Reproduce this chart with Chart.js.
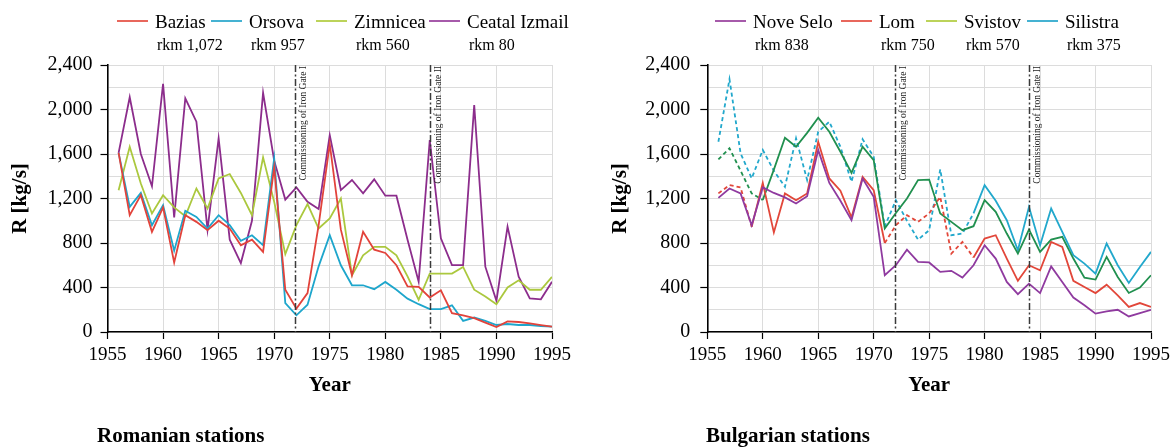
<!DOCTYPE html>
<html>
<head>
<meta charset="utf-8">
<script src="https://cdn.jsdelivr.net/npm/chart.js@4.4.0/dist/chart.umd.min.js"></script>
<style>
  html, body { margin: 0; padding: 0; background: #fff; }
  body { width: 1176px; height: 448px; position: relative; overflow: hidden;
         font-family: 'Liberation Serif', 'Times New Roman', serif; color: #000; }
  .panel { position: absolute; top: 0; height: 448px; }
  #left { left: 0; width: 590px; }
  #right { left: 590px; width: 586px; }
  .panel canvas { position: absolute; left: 0; top: 0; }
  .item { position: absolute; top: 9px; }
  .swatch { position: absolute; left: 0; top: 11px; width: 31px; height: 2px; }
  .name { position: absolute; left: 38px; top: 0; font-size: 19px; line-height: 25px; white-space: nowrap; }
  .rkm { position: absolute; left: 40px; top: 27px; font-size: 16px; line-height: 18px; white-space: nowrap; }
  .caption { position: absolute; top: 423px; font-size: 21px; font-weight: bold; }
</style>
</head>
<body>
<div class="panel" id="left">
  <canvas id="romania" width="590" height="448"></canvas>
  <div id="legendRo"></div>
  <div class="caption" style="left:97px">Romanian stations</div>
</div>
<div class="panel" id="right">
  <canvas id="bulgaria" width="586" height="448"></canvas>
  <div id="legendBg"></div>
  <div class="caption" style="left:116px">Bulgarian stations</div>
</div>
<script>
"use strict";

var FONT = "'Liberation Serif', 'Times New Roman', serif";

var years = [1956, 1957, 1958, 1959, 1960, 1961, 1962, 1963, 1964, 1965,
             1966, 1967, 1968, 1969, 1970, 1971, 1972, 1973, 1974, 1975,
             1976, 1977, 1978, 1979, 1980, 1981, 1982, 1983, 1984, 1985,
             1986, 1987, 1988, 1989, 1990, 1991, 1992, 1993, 1994, 1995];

// Romanian stations, R [kg/s]
var bazias  = [1610, 1050, 1230, 900, 1120, 625, 1050, 990, 915, 1000,
               930, 780, 830, 720, 1480, 380, 210, 350, 960, 1690,
               920, 510, 900, 740, 710, 600, 410, 405, 310, 375,
               170, 150, 125, 85, 45, 95, 90, 78, 62, 48];
var orsova  = [1610, 1125, 1250, 960, 1140, 730, 1090, 1035, 930, 1050,
               960, 820, 870, 780, 1560, 260, 150, 245, 590, 870,
               600, 420, 420, 385, 450, 380, 300, 250, 205, 205,
               240, 100, 130, 100, 63, 72, 63, 63, 54, 48];
var zimnicea = [1275, 1665, 1335, 1065, 1230, 1120, 1040, 1290, 1110, 1380,
                1420, 1250, 1050, 1570, 1170, 700, 960, 1150, 930, 1020,
                1200, 510, 690, 765, 765, 690, 500, 290, 525, 525,
                525, 585, 380, 320, 250, 400, 465, 380, 380, 495];
var ceatal  = [1610, 2110, 1600, 1310, 2230, 1030, 2100, 1890, 920, 1740,
               830, 620, 1000, 2150, 1540, 1190, 1300, 1170, 1105, 1770,
               1276, 1366, 1247, 1372, 1225, 1225, 830, 452, 1726, 842,
               602, 602, 2040, 587, 281, 947, 497, 303, 294, 452];

// Bulgarian stations, R [kg/s]; solid = measured, dashed = estimated
var noveSelo = [1206, 1290, 1245, 960, 1300, 1250, 1210, 1155, 1220, 1635,
                1340, 1180, 1005, 1380, 1215, 510, 600, 740, 630, 625,
                540, 550, 490, 600, 780, 660, 450, 340, 435, 350,
                590, 450, 310, 240, 165, 185, 200, 140, 170, 200];
var lom      = [null, null, null, 945, 1340, 895, 1245, 1185, 1245, 1710,
                1380, 1270, 1030, 1395, 1275, 800, null, null, null, null,
                null, null, null, 670, 840, 870, 660, 460, 600, 555,
                810, 765, 460, 405, 350, 425, 330, 225, 260, 225];
var lomEst   = [1246, 1320, 1300, 945, null, null, null, null, null, null,
                null, null, null, null, null, 800, 960, 1050, 990, 1066,
                1215, 705, 810, 670, null, null, null, null, null, null,
                null, null, null, null, null, null, null, null, null, null];
var svistov  = [null, null, null, null, 1186, 1460, 1746, 1665, 1790, 1926,
                1800, 1620, 1431, 1665, 1545, 930, 1070, 1200, 1365, 1370,
                1066, 990, 915, 951, 1185, 1080, 885, 705, 921, 720,
                831, 855, 660, 489, 471, 675, 495, 351, 399, 510];
var svistovEst = [1552, 1651, 1450, 1246, 1186, null, null, null, null, null,
                  null, null, null, null, null, null, null, null, null, null,
                  null, null, null, null, null, null, null, null, null, null,
                  null, null, null, null, null, null, null, null, null, null];
var silistra = [null, null, null, null, null, null, null, null, null, null,
                null, null, null, null, null, null, null, null, null, null,
                null, null, null, 1066, 1320, 1180, 1005, 735, 1125, 780,
                1110, 900, 690, 615, 525, 795, 600, 441, 585, 720];
var silistraEst = [1710, 2272, 1606, 1381, 1636, 1450, 1305, 1741, 1366, 1800,
                   1890, 1665, 1350, 1732, 1575, 950, 1185, 1000, 830, 915,
                   1462, 870, 885, 1066, null, null, null, null, null, null,
                   null, null, null, null, null, null, null, null, null, null];

var gates = [
  { year: 1971.9, text: 'Commissioning of Iron Gate I' },
  { year: 1984, text: 'Commissioning of Iron Gate II' }
];

// legend: station, river km, colour; x offsets of each entry inside its panel
var legendRo = [['Bazias', 'rkm 1,072', '#e8675c'], ['Orsova', 'rkm 957', '#45b2d2'],
                ['Zimnicea', 'rkm 560', '#bcd35a'], ['Ceatal Izmail', 'rkm 80', '#a65aaa']];
var legendBg = [['Nove Selo', 'rkm 838', '#a65aaa'], ['Lom', 'rkm 750', '#e8675c'],
                ['Svistov', 'rkm 570', '#bcd35a'], ['Silistra', 'rkm 375', '#45b2d2']];
var legendRoX = [117, 211, 316, 429];
var legendBgX = [125, 251, 336, 437];

function points(vals) {
  return years.map(function (yr, i) { return { x: yr, y: vals[i] }; });
}

function line(label, vals, color, dashed) {
  return {
    label: label,
    data: points(vals),
    borderColor: color,
    backgroundColor: color,
    borderWidth: 1.8,
    borderDash: dashed ? [4, 3] : [],
    pointRadius: 0,
    tension: 0,
    fill: false,
    spanGaps: false
  };
}

var ironGatePlugin = {
  id: 'ironGate',
  afterDatasetsDraw: function (chart) {
    var ctx = chart.ctx, area = chart.chartArea, xs = chart.scales.x;
    ctx.save();
    gates.forEach(function (g) {
      var px = Math.round(xs.getPixelForValue(g.year)) + 0.5;
      ctx.strokeStyle = '#3a3a3a';
      ctx.lineWidth = 1.5;
      ctx.setLineDash([7, 2.5, 2, 2.5]);
      ctx.beginPath();
      ctx.moveTo(px, area.top);
      ctx.lineTo(px, area.bottom);
      ctx.stroke();
      ctx.setLineDash([]);
      ctx.translate(px + 7.5, area.top + 1);
      ctx.rotate(-Math.PI / 2);
      ctx.fillStyle = '#222';
      ctx.font = '9.5px ' + FONT;
      ctx.textAlign = 'right';
      ctx.textBaseline = 'middle';
      ctx.fillText(g.text, 0, 0);
      ctx.setTransform(1, 0, 0, 1, 0, 0);
    });
    ctx.restore();
  }
};

function makeChart(id, datasets, axisW, padRight, tickPad, titlePad) {
  return new Chart(document.getElementById(id), {
    type: 'line',
    data: { datasets: datasets },
    plugins: [ironGatePlugin],
    options: {
      responsive: false,
      animation: false,
      events: [],
      layout: { padding: { left: 0, top: 65, right: padRight, bottom: 50 } },
      plugins: { legend: { display: false }, tooltip: { enabled: false } },
      scales: {
        x: {
          type: 'linear',
          min: 1955,
          max: 1995,
          afterFit: function (s) { s.height = 66; },
          border: { color: '#000', width: 1.6 },
          grid: { color: '#dcdcdc', lineWidth: 1, tickColor: '#000', tickLength: 7, tickWidth: 1.2 },
          ticks: {
            stepSize: 5, padding: 5, color: '#000', maxRotation: 0,
            font: { family: FONT, size: 19 },
            callback: function (v) { return String(v); }
          },
          title: {
            display: true, text: 'Year', color: '#000',
            font: { family: FONT, size: 21, weight: 'bold' },
            padding: { top: 0, bottom: 0 }
          }
        },
        y: {
          min: 0,
          max: 2400,
          afterFit: function (s) { s.width = axisW; },
          border: { color: '#000', width: 1.6 },
          grid: {
            color: '#dcdcdc', lineWidth: 1, tickLength: 7, tickWidth: 1.2,
            tickColor: function (c) {
              return c.tick && c.tick.value % 400 === 0 ? '#000' : 'rgba(0,0,0,0)';
            }
          },
          ticks: {
            stepSize: 200, padding: tickPad, color: '#000', autoSkip: false,
            font: { family: FONT, size: 20 },
            callback: function (v) { return v % 400 === 0 ? v.toLocaleString('en-US') : ''; }
          },
          title: {
            display: true, text: 'R [kg/s]', color: '#000',
            font: { family: FONT, size: 21, weight: 'bold' },
            padding: { top: titlePad, bottom: 0 }
          }
        }
      }
    }
  });
}

function legend(id, entries, xs) {
  var box = document.getElementById(id);
  entries.forEach(function (e, i) {
    var item = document.createElement('div');
    item.className = 'item';
    item.style.left = xs[i] + 'px';
    item.innerHTML = '<div class="swatch" style="background:' + e[2] + '"></div>' +
      '<div class="name">' + e[0] + '</div><div class="rkm">' + e[1] + '</div>';
    box.appendChild(item);
  });
}

makeChart('romania', [
  line('Bazias', bazias, '#e2433b'),
  line('Orsova', orsova, '#1ea6cc'),
  line('Zimnicea', zimnicea, '#abc83e'),
  line('Ceatal Izmail', ceatal, '#8c2d8c')
], 107.5, 38, 8, 8);

makeChart('bulgaria', [
  line('Nove Selo', noveSelo, '#8f3a9f'),
  line('Lom', lom, '#e2473a'),
  line('Lom est.', lomEst, '#e2473a', true),
  line('Svistov', svistov, '#21904f'),
  line('Svistov est.', svistovEst, '#21904f', true),
  line('Silistra', silistra, '#22a8cc'),
  line('Silistra est.', silistraEst, '#22a8cc', true)
], 117.3, 25, 10, 18);

legend('legendRo', legendRo, legendRoX);
legend('legendBg', legendBg, legendBgX);
</script>
</body>
</html>
